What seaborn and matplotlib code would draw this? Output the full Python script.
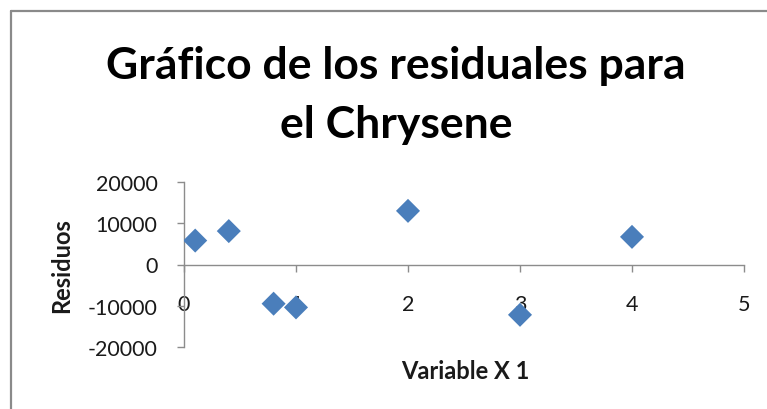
import matplotlib
matplotlib.use("Agg")
import matplotlib.pyplot as plt
import seaborn as sns
import pandas as pd
from matplotlib.lines import Line2D

x_values = [0.1, 0.4, 0.8, 1.0, 2.0, 3.0, 4.0]
residuals = [5800, 8100, -9500, -10400, 13000, -12200, 6700]
x_ticks = [0, 1, 2, 3, 4, 5]
y_ticks = [-20000, -10000, 0, 10000, 20000]

sns.set_theme(style="white")
plt.rcParams['font.family'] = ['Lato', 'DejaVu Sans']

df = pd.DataFrame({"x": x_values, "res": residuals})

fig = plt.figure(figsize=(7.67, 4.10), dpi=100)
ax = fig.add_axes([184/767, 1-348/410, (744-184)/767, (348-183)/410])
sns.scatterplot(data=df, x="x", y="res", ax=ax, marker="D", s=150,
                color="#4a7ebb", edgecolor="none", zorder=3)

ax.set_xlim(0, 5)
ax.set_ylim(-20000, 20000)
ax.set_xticks(x_ticks)
ax.set_yticks(y_ticks)
ax.set_xticklabels([str(v) for v in x_ticks])
ax.set_yticklabels([str(v) for v in y_ticks])

for s in ["top", "right"]:
    ax.spines[s].set_visible(False)
ax.spines["bottom"].set_position(("data", 0))
for s in ["bottom", "left"]:
    ax.spines[s].set_color("#8c8c8c")
    ax.spines[s].set_linewidth(1.0)
ax.tick_params(axis="both", which="major", direction="out", length=5, width=1,
               color="#8c8c8c", labelsize=15.5, labelcolor="#1a1a1a", bottom=True, left=True)
ax.tick_params(axis="x", pad=16)
ax.tick_params(axis="y", pad=14)
ax.set_facecolor("white")

ax.set_xlabel("")
ax.set_ylabel("")
fig.text(465/767, 1-372/410, "Variable X 1", ha="center", va="center",
         fontsize=17, fontweight="bold", color="#1a1a1a")
fig.text(62/767, 1-266/410, "Residuos", ha="center", va="center", rotation=90,
         fontsize=17, fontweight="bold", color="#1a1a1a")
fig.text(396/767, 1-66/410, "Gráfico de los residuales para", ha="center", va="center",
         fontsize=32, fontweight="bold", color="#000000")
fig.text(396/767, 1-125/410, "el Chrysene", ha="center", va="center",
         fontsize=32, fontweight="bold", color="#000000")

fig.add_artist(Line2D([11/767, 11/767], [0, 1-12/410], transform=fig.transFigure,
                      color="#8a8a8a", linewidth=1.6))
fig.add_artist(Line2D([11/767, 1], [1-12/410, 1-12/410], transform=fig.transFigure,
                      color="#8a8a8a", linewidth=1.6))

fig.savefig("out.png", dpi=100)
